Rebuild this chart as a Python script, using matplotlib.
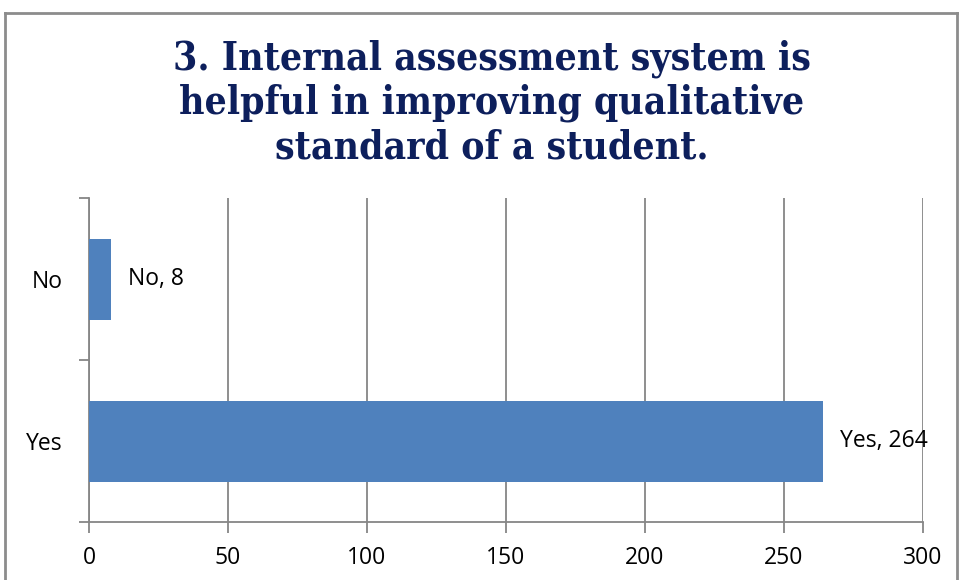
import matplotlib.pyplot as plt
from matplotlib.lines import Line2D

categories = ['Yes', 'No']
counts = [264, 8]
title = '3. Internal assessment system is\nhelpful in improving qualitative\nstandard of a student.'

bar_color = '#4F81BD'
axis_gray = '#868686'

dpi = 100
fig = plt.figure(figsize=(960 / dpi, 580 / dpi), dpi=dpi)
ax = fig.add_axes([89 / 960, 1 - 522 / 580, (923 - 89) / 960, (522 - 198) / 580])

ypos = list(range(len(categories)))
bars = ax.barh(ypos, counts, height=0.5, color=bar_color, zorder=3)
for b, cat, val in zip(bars, categories, counts):
    ax.annotate(f'{cat}, {val}', (b.get_width(), b.get_y() + b.get_height() / 2),
                xytext=(17, 0), textcoords='offset pixels', va='center', ha='left',
                fontsize=16.5, family='Open Sans', zorder=4)

ax.set_xlim(0, 300)
ax.set_ylim(-0.5, len(categories) - 0.5)
ax.set_xticks(range(0, 301, 50))
ax.set_yticks(ypos)
ax.set_yticklabels(categories)
ax.set_yticks([-0.5, 0.5, 1.5], minor=True)
ax.grid(axis='x', color=axis_gray, linewidth=1.3, zorder=0)

for s in ['top', 'right']:
    ax.spines[s].set_visible(False)
for s in ['left', 'bottom']:
    ax.spines[s].set_color(axis_gray)
    ax.spines[s].set_linewidth(1.3)

ax.tick_params(axis='y', which='major', length=0, pad=19, labelsize=16.5)
ax.tick_params(axis='y', which='minor', length=7, color=axis_gray, width=1.3)
ax.tick_params(axis='x', length=8, color=axis_gray, width=1.3, pad=9, labelsize=16.5)
for lab in ax.get_xticklabels() + ax.get_yticklabels():
    lab.set_family('Open Sans')

fig.text(0.512, 1 - 103 / 580, title, ha='center', va='center', fontsize=28,
         fontweight='bold', family='DejaVu Serif', stretch='condensed',
         color='#0D1F5C', linespacing=1.2)

# chart area border
x0, x1, yt = 5 / 960, 957 / 960, 1 - 13 / 580
for xs, ys in [([x0, x1], [yt, yt]), ([x0, x0], [0, yt]), ([x1, x1], [0, yt])]:
    fig.add_artist(Line2D(xs, ys, color='#8C8C8C', linewidth=2, transform=fig.transFigure))

fig.savefig('out.png', dpi=dpi)
